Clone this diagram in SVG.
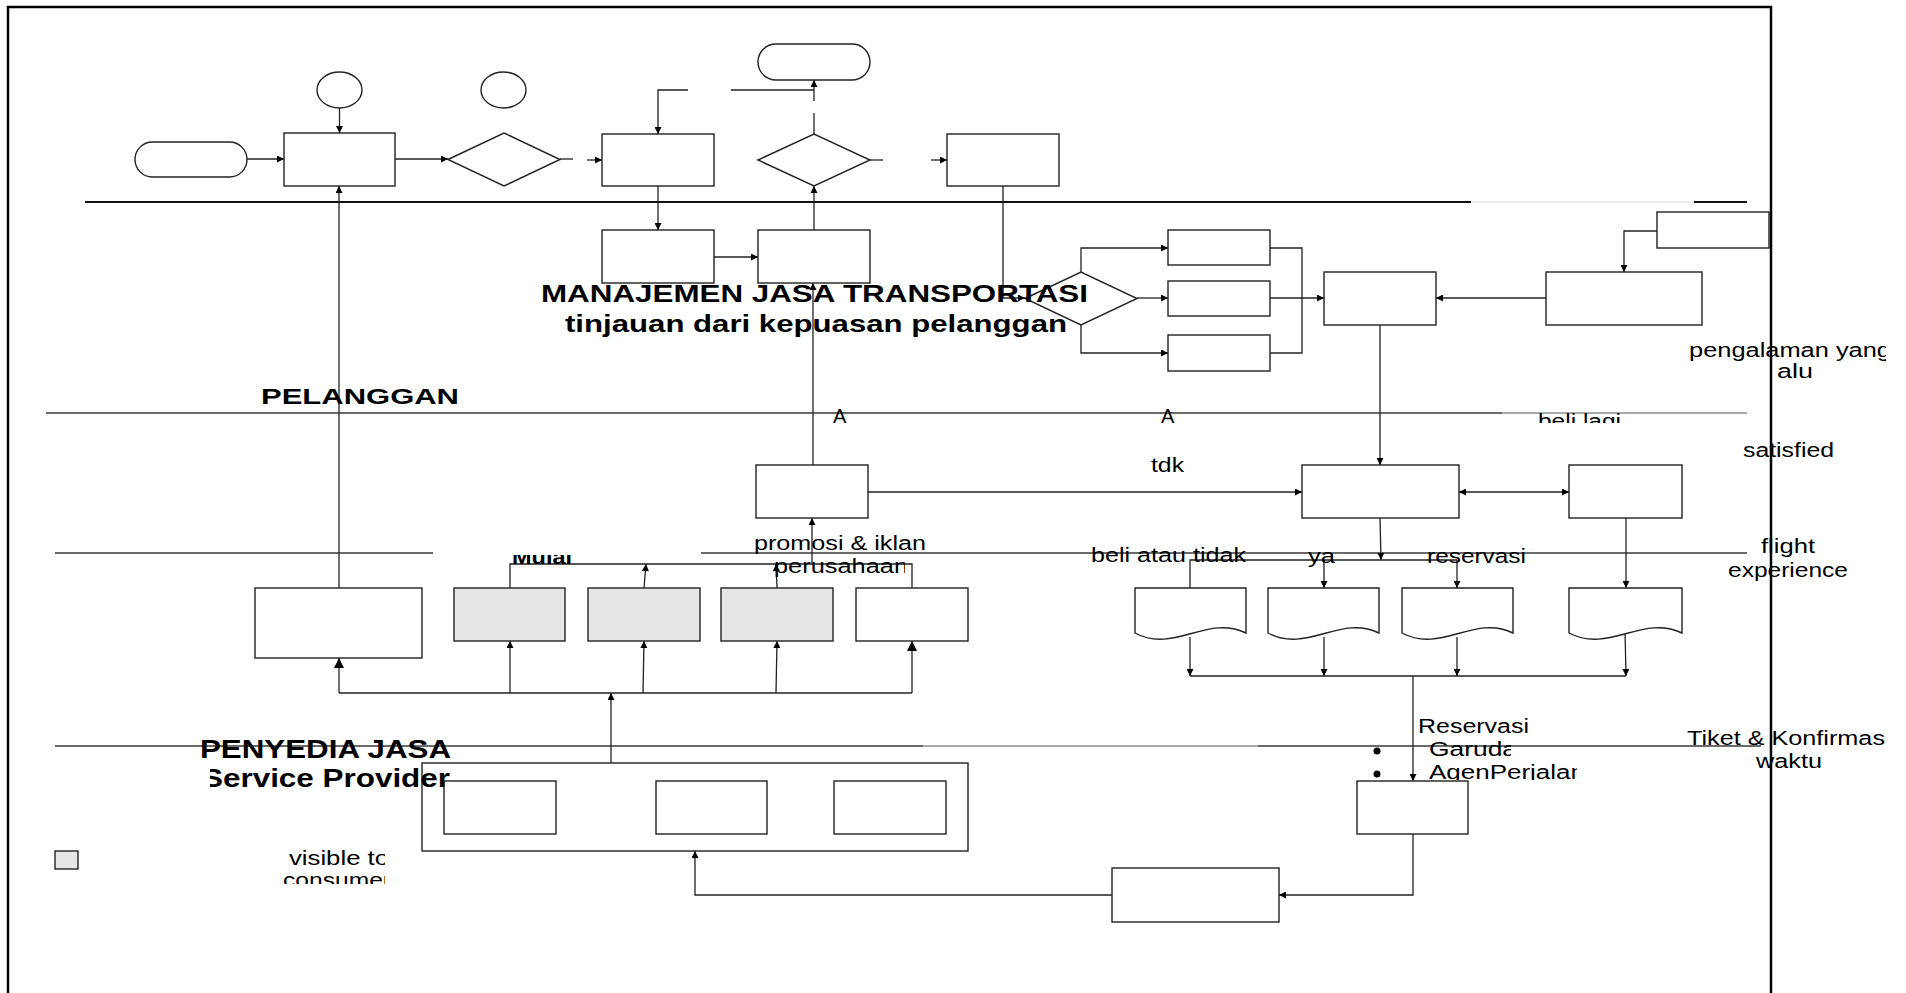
<svg xmlns="http://www.w3.org/2000/svg" width="1906" height="993" viewBox="0 0 1906 993">
<style>
.n{fill:#fff;stroke:#222;stroke-width:1.4}
.g{fill:#e6e6e6;stroke:#222;stroke-width:1.4}
.c{fill:none;stroke:#222;stroke-width:1.3}
.lane{stroke:#6a6a6a;stroke-width:2}
.t{font-family:"Liberation Sans",Arial,sans-serif;fill:#000}
.b{font-weight:bold}
</style>
<defs>
<marker id="a" viewBox="0 0 10 10" refX="10" refY="5" markerWidth="8" markerHeight="7" markerUnits="userSpaceOnUse" orient="auto-start-reverse"><path d="M0,0 L10,5 L0,10 z" fill="#000"/></marker>
<marker id="A" viewBox="0 0 10 10" refX="10" refY="5" markerWidth="12" markerHeight="10" markerUnits="userSpaceOnUse" orient="auto"><path d="M0,0 L10,5 L0,10 z" fill="#000"/></marker>
<clipPath id="cR"><rect x="0" y="0" width="1886" height="993"/></clipPath>
<clipPath id="cBL"><rect x="1500" y="400" width="200" height="23"/></clipPath>
<clipPath id="cMu"><rect x="500" y="555" width="100" height="20"/></clipPath>
<clipPath id="cSP"><rect x="210" y="765" width="260" height="30"/></clipPath>
<clipPath id="cVT"><rect x="270" y="840" width="115" height="44"/></clipPath>
<clipPath id="cGA"><rect x="1420" y="735" width="157" height="45"/></clipPath>
<clipPath id="cGa"><rect x="1420" y="735" width="91" height="30"/></clipPath>
<clipPath id="cPE"><rect x="760" y="555" width="145" height="30"/></clipPath>
</defs>

<g id="frame" fill="none" stroke="#000" stroke-width="2.5">
<path d="M8,993 V7 H1771 V993"/>
</g>

<g id="lanes">
<line class="lane" x1="85" y1="202" x2="1471" y2="202" style="stroke:#111"/>
<line x1="1471" y1="202" x2="1694" y2="202" stroke="#eee" stroke-width="2"/>
<line x1="1694" y1="202" x2="1747" y2="202" stroke="#111" stroke-width="2"/>
<line class="lane" x1="46" y1="413" x2="1502" y2="413"/>
<line x1="1502" y1="413" x2="1747" y2="413" stroke="#aaa" stroke-width="2"/>
<line class="lane" x1="55" y1="553" x2="433" y2="553"/>
<line class="lane" x1="701" y1="553" x2="1747" y2="553"/>
<line class="lane" x1="55" y1="746" x2="923" y2="746"/>
<line x1="923" y1="746" x2="1258" y2="746" stroke="#aaa" stroke-width="2"/>
<line class="lane" x1="1258" y1="746" x2="1761" y2="746"/>
</g>

<g id="connectors" class="c">
<line x1="247" y1="159" x2="284" y2="159" marker-end="url(#a)"/>
<line x1="339.5" y1="108" x2="339.5" y2="133" marker-end="url(#a)"/>
<line x1="395" y1="159" x2="448" y2="159" marker-end="url(#a)"/>
<line x1="560" y1="159" x2="573" y2="159"/>
<line x1="587" y1="160" x2="602" y2="160" marker-end="url(#a)"/>
<line x1="658" y1="186" x2="658" y2="230" marker-end="url(#a)"/>
<path d="M688,90 H658 V134" marker-end="url(#a)"/>
<line x1="731" y1="90" x2="814" y2="90"/>
<line x1="814" y1="134" x2="814" y2="113"/>
<line x1="814" y1="101" x2="814" y2="80" marker-end="url(#a)"/>
<line x1="870" y1="160" x2="883" y2="160"/>
<line x1="931" y1="160" x2="947" y2="160" marker-end="url(#a)"/>
<line x1="714" y1="257" x2="758" y2="257" marker-end="url(#a)"/>
<line x1="814" y1="230" x2="814" y2="186" marker-end="url(#a)"/>
<path d="M1003,186 V298 H1025" marker-end="url(#a)"/>
<path d="M1081,272 V248 H1168" marker-end="url(#a)"/>
<line x1="1137" y1="298" x2="1168" y2="298" marker-end="url(#a)"/>
<path d="M1081,325 V353 H1168" marker-end="url(#a)"/>
<path d="M1270,248 H1302 V353 H1270"/>
<line x1="1270" y1="298" x2="1324" y2="298" marker-end="url(#a)"/>
<line x1="1546" y1="298" x2="1436" y2="298" marker-end="url(#a)"/>
<path d="M1657,231 H1624 V272" marker-end="url(#a)"/>
<line x1="1380" y1="325" x2="1380" y2="465" marker-end="url(#a)"/>
<line x1="339" y1="588" x2="339" y2="186" marker-end="url(#a)"/>
<line x1="813" y1="465" x2="813" y2="283" marker-end="url(#a)"/>
<line x1="868" y1="492" x2="1302" y2="492" marker-end="url(#a)"/>
<line x1="1459" y1="492" x2="1569" y2="492" marker-start="url(#a)" marker-end="url(#a)"/>
<line x1="1626" y1="518" x2="1626" y2="588" marker-end="url(#a)"/>
<line x1="1380" y1="518" x2="1381" y2="560" marker-end="url(#a)"/>
<path d="M1190,588 V560 H1457"/>
<line x1="1324" y1="560" x2="1324" y2="588" marker-end="url(#a)"/>
<line x1="1457" y1="560" x2="1457" y2="588" marker-end="url(#a)"/>
<line x1="1190" y1="637" x2="1190" y2="676" marker-end="url(#a)"/>
<line x1="1324" y1="637" x2="1324" y2="676" marker-end="url(#a)"/>
<line x1="1457" y1="637" x2="1457" y2="676" marker-end="url(#a)"/>
<line x1="1625" y1="630" x2="1626" y2="676" marker-end="url(#a)"/>
<line x1="1190" y1="676" x2="1626" y2="676"/>
<line x1="1413" y1="676" x2="1413" y2="781" marker-end="url(#a)"/>
<path d="M1413,834 V895 H1279" marker-end="url(#a)"/>
<path d="M1112,895 H695 V851" marker-end="url(#a)"/>
<line x1="611" y1="763" x2="611" y2="693" marker-end="url(#a)"/>
<line x1="339" y1="693" x2="912" y2="693"/>
<line x1="339" y1="693" x2="339" y2="658" marker-end="url(#A)"/>
<line x1="510" y1="693" x2="510" y2="641" marker-end="url(#a)"/>
<line x1="643" y1="693" x2="644" y2="641" marker-end="url(#a)"/>
<line x1="776" y1="693" x2="777" y2="641" marker-end="url(#a)"/>
<line x1="912" y1="693" x2="912" y2="641" marker-end="url(#A)"/>
<path d="M510,588 V564 H912 V588"/>
<line x1="644" y1="588" x2="646" y2="564" marker-end="url(#a)"/>
<line x1="777" y1="588" x2="776" y2="564" marker-end="url(#a)"/>
<line x1="812" y1="564" x2="812" y2="518" marker-end="url(#a)"/>
</g>

<g id="start"><rect class="n" x="135" y="142" width="112" height="35" rx="17.5"/></g>
<g id="circle1"><ellipse class="n" cx="339.5" cy="90" rx="22.5" ry="18"/></g>
<g id="box1"><rect class="n" x="284" y="133" width="111" height="53"/></g>
<g id="diamond1"><path class="n" d="M448,159.5 L504,133 L560,159.5 L504,186 Z"/></g>
<g id="circle2"><ellipse class="n" cx="503.5" cy="90" rx="22.5" ry="18"/></g>
<g id="box2"><rect class="n" x="602" y="134" width="112" height="52"/></g>
<g id="end"><rect class="n" x="758" y="44" width="112" height="36" rx="18"/></g>
<g id="diamond2"><path class="n" d="M758,160 L814,134 L870,160 L814,186 Z"/></g>
<g id="box3"><rect class="n" x="947" y="134" width="112" height="52"/></g>
<g id="box4"><rect class="n" x="602" y="230" width="112" height="53"/></g>
<g id="box5"><rect class="n" x="758" y="230" width="112" height="53"/></g>

<g id="diamond3"><path class="n" d="M1025,298.5 L1081,272 L1137,298.5 L1081,325 Z"/></g>
<g id="box6"><rect class="n" x="1168" y="230" width="102" height="35"/></g>
<g id="box7"><rect class="n" x="1168" y="281" width="102" height="35"/></g>
<g id="box8"><rect class="n" x="1168" y="335" width="102" height="36"/></g>
<g id="box9"><rect class="n" x="1324" y="272" width="112" height="53"/></g>
<g id="box10"><rect class="n" x="1546" y="272" width="156" height="53"/></g>
<g id="box11"><rect class="n" x="1657" y="212" width="112" height="36"/></g>

<g id="title">
<text class="t b" x="541" y="302" font-size="24" textLength="547" lengthAdjust="spacingAndGlyphs">MANAJEMEN JASA TRANSPORTASI</text>
<text class="t b" x="565" y="332" font-size="24" textLength="502" lengthAdjust="spacingAndGlyphs">tinjauan dari kepuasan pelanggan</text>
</g>

<g id="promosi"><rect class="n" x="756" y="465" width="112" height="53"/></g>
<g id="box13"><rect class="n" x="1302" y="465" width="157" height="53"/></g>
<g id="box12"><rect class="n" x="1569" y="465" width="113" height="53"/></g>

<g id="L1"><rect class="n" x="255" y="588" width="167" height="70"/></g>
<g id="G1"><rect class="g" x="454" y="588" width="111" height="53"/></g>
<g id="G2"><rect class="g" x="588" y="588" width="112" height="53"/></g>
<g id="G3"><rect class="g" x="721" y="588" width="112" height="53"/></g>
<g id="W"><rect class="n" x="856" y="588" width="112" height="53"/></g>

<g id="doc1"><path class="n" d="M1135,588 H1246 V633 C1207,614 1174,654 1135,633 Z"/></g>
<g id="doc2"><path class="n" d="M1268,588 H1379 V633 C1340,614 1307,654 1268,633 Z"/></g>
<g id="doc3"><path class="n" d="M1402,588 H1513 V633 C1474,614 1441,654 1402,633 Z"/></g>
<g id="doc4"><path class="n" d="M1569,588 H1682 V633 C1642,614 1609,654 1569,633 Z"/></g>

<g id="provider">
<rect class="n" x="422" y="763" width="546" height="88"/>
<rect class="n" x="444" y="781" width="112" height="53"/>
<rect class="n" x="656" y="781" width="111" height="53"/>
<rect class="n" x="834" y="781" width="112" height="53"/>
</g>
<g id="boxS"><rect class="n" x="1357" y="781" width="111" height="53"/></g>
<g id="boxR"><rect class="n" x="1112" y="868" width="167" height="54"/></g>
<g id="legend"><rect class="g" x="55" y="851" width="23" height="18"/></g>

<g id="labels" class="t" font-size="20">
<text class="b" x="261" y="404" font-size="22" textLength="198" lengthAdjust="spacingAndGlyphs">PELANGGAN</text>
<text x="833" y="423">A</text>
<text x="1161" y="423">A</text>
<g clip-path="url(#cBL)"><text x="1538" y="428" textLength="83" lengthAdjust="spacingAndGlyphs">beli lagi</text></g>
<text x="1151" y="472" textLength="33" lengthAdjust="spacingAndGlyphs">tdk</text>
<g clip-path="url(#cR)">
<text x="1689" y="357" textLength="202" lengthAdjust="spacingAndGlyphs">pengalaman yang</text>
<text x="1687" y="745" textLength="198" lengthAdjust="spacingAndGlyphs">Tiket &amp; Konfirmas</text>
</g>
<text x="1777" y="378" textLength="36" lengthAdjust="spacingAndGlyphs">alu</text>
<text x="1756" y="768" textLength="66" lengthAdjust="spacingAndGlyphs">waktu</text>
<text x="1743" y="457" textLength="91" lengthAdjust="spacingAndGlyphs">satisfied</text>
<text x="1761" y="553" textLength="54" lengthAdjust="spacingAndGlyphs">flight</text>
<text x="1728" y="577" textLength="120" lengthAdjust="spacingAndGlyphs">experience</text>
<text x="754" y="550" textLength="172" lengthAdjust="spacingAndGlyphs">promosi &amp; iklan</text>
<g clip-path="url(#cPE)"><text x="774" y="573" textLength="134" lengthAdjust="spacingAndGlyphs">perusahaan</text></g>
<text x="1091" y="562" textLength="155" lengthAdjust="spacingAndGlyphs">beli atau tidak</text>
<text x="1308" y="563" textLength="27" lengthAdjust="spacingAndGlyphs">ya</text>
<text x="1427" y="563" textLength="99" lengthAdjust="spacingAndGlyphs">reservasi</text>
<text x="1418" y="733" textLength="111" lengthAdjust="spacingAndGlyphs">Reservasi</text>
<circle cx="1377" cy="751" r="3.5" fill="#000"/>
<circle cx="1377" cy="774" r="3.5" fill="#000"/>
<g clip-path="url(#cGa)"><text x="1429" y="756" textLength="88" lengthAdjust="spacingAndGlyphs">Garuda</text></g>
<g clip-path="url(#cGA)"><text x="1429" y="779" textLength="156" lengthAdjust="spacingAndGlyphs">AgenPerjalan</text></g>
<text class="b" x="200" y="758" font-size="25" textLength="251" lengthAdjust="spacingAndGlyphs">PENYEDIA JASA</text>
<g clip-path="url(#cSP)"><text class="b" x="202" y="787" font-size="25" textLength="248" lengthAdjust="spacingAndGlyphs">Service Provider</text></g>
<g clip-path="url(#cMu)"><text class="b" x="512" y="564" textLength="60" lengthAdjust="spacingAndGlyphs">Mulai</text></g>
<g clip-path="url(#cVT)">
<text x="289" y="865" textLength="100" lengthAdjust="spacingAndGlyphs">visible to</text>
<text x="283" y="887" textLength="108" lengthAdjust="spacingAndGlyphs">consumer</text>
</g>
</g>
</svg>
